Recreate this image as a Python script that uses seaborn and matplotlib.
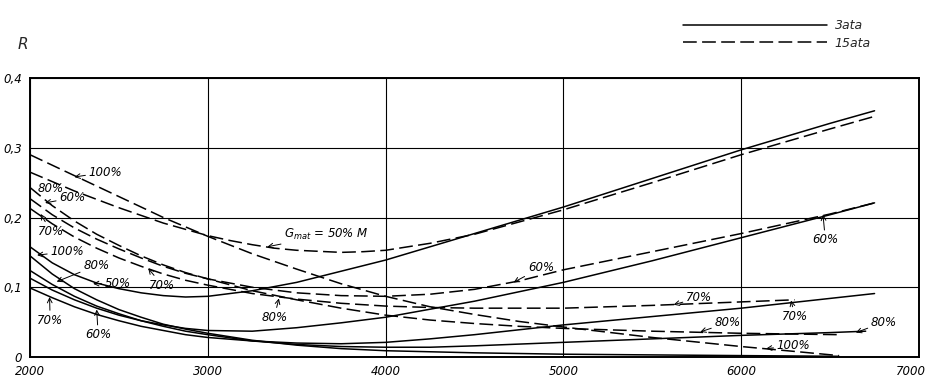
import matplotlib
matplotlib.use("Agg")
import matplotlib.pyplot as plt
from matplotlib.lines import Line2D
from matplotlib.transforms import ScaledTranslation
import seaborn as sns
import pandas as pd

# Engine speed n (x) and efficiency ratio R (y) for several load shares G
# at two charging pressures: 3 ata (solid) and 15 ata (dashed).

s50_x = [2000, 2125, 2250, 2375, 2500, 2625, 2750, 2875, 3000, 3250, 3500, 4000, 4500, 5000, 5500, 6000, 6500, 6750]
s50_y = [0.158, 0.135, 0.118, 0.106, 0.098, 0.092, 0.088, 0.086, 0.087, 0.095, 0.107, 0.139, 0.177, 0.215, 0.256, 0.297, 0.335, 0.353]

s60_x = [2000, 2125, 2250, 2375, 2500, 2625, 2750, 2875, 3000, 3250, 3500, 3750, 4000, 4500, 5000, 5500, 6000, 6500, 6750]
s60_y = [0.113, 0.096, 0.082, 0.070, 0.060, 0.052, 0.046, 0.041, 0.038, 0.037, 0.042, 0.049, 0.057, 0.080, 0.107, 0.138, 0.171, 0.204, 0.221]

s70_x = [2000, 2125, 2250, 2375, 2500, 2625, 2750, 2875, 3000, 3250, 3500, 3750, 4000, 4250, 4500, 5000, 5500, 6000, 6500, 6750]
s70_y = [0.099, 0.085, 0.072, 0.061, 0.052, 0.044, 0.038, 0.032, 0.028, 0.023, 0.020, 0.019, 0.021, 0.026, 0.032, 0.046, 0.058, 0.070, 0.084, 0.091]

s80_x = [2000, 2125, 2250, 2375, 2500, 2625, 2750, 2875, 3000, 3250, 3500, 3750, 4000, 4250, 4500, 5000, 5500, 6000, 6500, 6700]
s80_y = [0.124, 0.104, 0.087, 0.073, 0.062, 0.052, 0.044, 0.037, 0.032, 0.023, 0.018, 0.015, 0.014, 0.014, 0.016, 0.021, 0.026, 0.031, 0.035, 0.037]

s100_x = [2000, 2125, 2250, 2375, 2500, 2625, 2750, 2875, 3000, 3250, 3500, 3750, 4000, 4500, 5000, 5500, 6000, 6550]
s100_y = [0.145, 0.119, 0.098, 0.082, 0.068, 0.057, 0.047, 0.040, 0.034, 0.024, 0.017, 0.012, 0.009, 0.006, 0.004, 0.003, 0.002, 0.001]

d50_x = [2000, 2250, 2500, 2750, 3000, 3125, 3250, 3375, 3500, 3750, 3875, 4000, 4250, 4500, 5000, 5500, 6000, 6500, 6750]
d50_y = [0.265, 0.238, 0.214, 0.192, 0.174, 0.167, 0.161, 0.156, 0.153, 0.150, 0.151, 0.153, 0.163, 0.176, 0.211, 0.250, 0.290, 0.327, 0.345]

d60_x = [2000, 2125, 2250, 2375, 2500, 2625, 2750, 2875, 3000, 3250, 3500, 3750, 4000, 4250, 4500, 4750, 5000, 5500, 6000, 6500, 6750]
d60_y = [0.227, 0.204, 0.185, 0.169, 0.155, 0.142, 0.130, 0.120, 0.112, 0.100, 0.092, 0.088, 0.087, 0.090, 0.097, 0.109, 0.125, 0.151, 0.177, 0.205, 0.221]

d70_x = [2000, 2125, 2250, 2375, 2500, 2625, 2750, 2875, 3000, 3250, 3500, 3750, 4000, 4250, 4500, 5000, 5500, 6000, 6300]
d70_y = [0.213, 0.191, 0.172, 0.156, 0.142, 0.130, 0.119, 0.110, 0.103, 0.091, 0.083, 0.077, 0.073, 0.071, 0.070, 0.070, 0.074, 0.079, 0.082]

d80_x = [2000, 2125, 2250, 2375, 2500, 2625, 2750, 2875, 3000, 3250, 3500, 3750, 4000, 4250, 4500, 4750, 5000, 5500, 6000, 6550]
d80_y = [0.243, 0.217, 0.195, 0.176, 0.160, 0.145, 0.132, 0.121, 0.112, 0.095, 0.082, 0.070, 0.060, 0.053, 0.048, 0.044, 0.041, 0.037, 0.034, 0.032]

d100_x = [2000, 2250, 2500, 2750, 3000, 3250, 3500, 3750, 4000, 4250, 4500, 4750, 5000, 5500, 6000, 6300, 6550]
d100_y = [0.290, 0.260, 0.230, 0.200, 0.173, 0.148, 0.126, 0.105, 0.087, 0.072, 0.061, 0.051, 0.043, 0.028, 0.015, 0.008, 0.002]

x_ticks = [2000, 3000, 4000, 5000, 6000, 7000]
y_ticks = [0.0, 0.1, 0.2, 0.3, 0.4]
y_tick_labels = ["0", "0,1", "0,2", "0,3", "0,4"]

curves = [
    ("3ata", "50%", s50_x, s50_y), ("3ata", "60%", s60_x, s60_y),
    ("3ata", "70%", s70_x, s70_y), ("3ata", "80%", s80_x, s80_y),
    ("3ata", "100%", s100_x, s100_y),
    ("15ata", "50%", d50_x, d50_y), ("15ata", "60%", d60_x, d60_y),
    ("15ata", "70%", d70_x, d70_y), ("15ata", "80%", d80_x, d80_y),
    ("15ata", "100%", d100_x, d100_y),
]
frames = []
for p, g, xs, ys in curves:
    frames.append(pd.DataFrame({"n": xs, "R": ys, "p": p, "G": g, "curve": p + g}))
df = pd.concat(frames, ignore_index=True)

sns.set_theme(style="white")
plt.rcParams["font.family"] = ["DejaVu Sans"]
TXT = dict(fontstyle="italic", fontsize=8.5, color="black")

fig = plt.figure(figsize=(9.31, 3.80), dpi=100)
ax = fig.add_axes([30 / 931, 1 - 357 / 380, (919 - 30) / 931, (357 - 78) / 380])

dash = (0, (9, 3.5))
for p, ls in (("3ata", "-"), ("15ata", dash)):
    sub = df[df["p"] == p]
    for _, grp in sub.groupby("curve"):
        sns.lineplot(data=grp, x="n", y="R", ax=ax, color="black",
                     linewidth=1.1, linestyle=ls, sort=True, estimator=None,
                     legend=False)

ax.set_xlim(2000, 7000)
ax.set_ylim(0, 0.4)
ax.set_xticks(x_ticks)
ax.set_yticks(y_ticks)
ax.set_xticklabels([str(v) for v in x_ticks], **TXT)
ax.set_yticklabels(y_tick_labels, **TXT)
ax.tick_params(length=0, pad=6)
# pull the last speed label slightly inwards so it stays on the sheet
last = ax.get_xticklabels()[-1]
last.set_transform(last.get_transform() + ScaledTranslation(-6 / 72, 0, fig.dpi_scale_trans))
ax.set_xlabel("")
ax.set_ylabel("")
ax.grid(True, color="black", linewidth=0.8)
for sp in ax.spines.values():
    sp.set_visible(True)
    sp.set_color("black")
    sp.set_linewidth(1.4)

fig.text(18 / 931, 1 - 49 / 380, "R", fontsize=11, fontstyle="italic")

arrow = dict(arrowstyle="->", color="black", lw=0.7, shrinkA=0, shrinkB=0)


def note(text, xy, xytext, **kw):
    ax.annotate(text, xy=xy, xytext=xytext, arrowprops=arrow,
                ha="left", va="center", **TXT, **kw)


def label(text, xy):
    ax.text(xy[0], xy[1], text, ha="left", va="center", **TXT)


# left-hand group labels
note("100%", (2250, 0.258), (2330, 0.265))
label("80%", (2040, 0.241))
note("60%", (2085, 0.221), (2165, 0.228))
note("70%", (2060, 0.205), (2045, 0.180))
note("100%", (2040, 0.146), (2115, 0.151))
note("80%", (2150, 0.108), (2300, 0.131))
note("50%", (2355, 0.105), (2420, 0.106))
note("70%", (2665, 0.127), (2670, 0.103))
note("70%", (2110, 0.086), (2040, 0.053))
note("60%", (2375, 0.068), (2310, 0.032))
ax.annotate(r"$G_{mat}$ = 50% M", xy=(3335, 0.158), xytext=(3430, 0.175),
            arrowprops=arrow, ha="left", va="center", **TXT)
note("80%", (3400, 0.084), (3300, 0.057))
note("60%", (4720, 0.107), (4800, 0.128))
note("70%", (5620, 0.075), (5690, 0.085))
note("80%", (5770, 0.036), (5850, 0.049))
note("60%", (6460, 0.204), (6400, 0.168))
note("70%", (6280, 0.081), (6230, 0.058))
note("80%", (6645, 0.035), (6730, 0.050))
note("100%", (6140, 0.012), (6200, 0.016))

handles = [Line2D([], [], color="black", lw=1.1, linestyle="-"),
           Line2D([], [], color="black", lw=1.1, linestyle=dash)]
fig.legend(handles, ["3ata", "15ata"], loc="upper left",
           bbox_to_anchor=(672 / 931, 1 - 8 / 380), frameon=False,
           handlelength=11.5, handletextpad=0.6, labelspacing=0.35,
           prop=dict(style="italic", size=9))

fig.savefig("out.png", dpi=100, facecolor="white")
